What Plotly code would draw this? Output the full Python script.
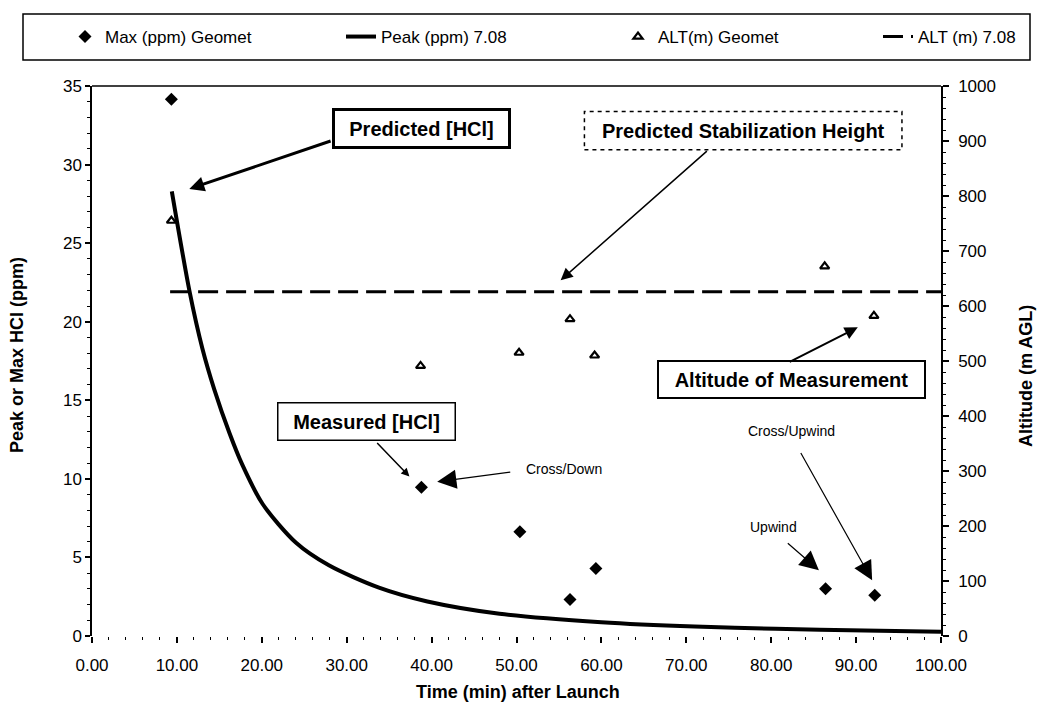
import plotly.graph_objects as go

# ---------------- data ----------------
max_time = [9.35, 38.8, 50.4, 56.3, 59.35, 86.4, 92.2]
max_ppm = [34.15, 9.46, 6.63, 2.33, 4.29, 3.01, 2.59]

alt_time = [9.35, 38.7, 50.3, 56.3, 59.2, 86.3, 92.1]
alt_m = [755, 491, 515, 576, 510, 672, 582]

peak_time = [9.4, 11.5, 13.0, 14.4, 16.2, 17.7, 20.1, 24.0, 27.9, 33.8, 39.5,
             48.0, 60.0, 71.0, 80.5, 91.0, 100.0]
peak_ppm = [28.3, 21.9, 18.3, 15.7, 12.9, 10.9, 8.4, 5.95, 4.5, 3.08, 2.2,
            1.42, 0.88, 0.6, 0.46, 0.35, 0.27]

alt708_time = [9.2, 100.0]
alt708_m = [626, 626]

x_ticks = [0, 10, 20, 30, 40, 50, 60, 70, 80, 90, 100]
y_ticks = [0, 5, 10, 15, 20, 25, 30, 35]
y2_ticks = [0, 100, 200, 300, 400, 500, 600, 700, 800, 900, 1000]

FONT = "Arial, Liberation Sans, Helvetica, sans-serif"

fig = go.Figure()

fig.add_trace(go.Scatter(
    x=max_time, y=max_ppm, mode="markers", name="Max (ppm) Geomet",
    marker=dict(symbol="diamond", size=10, color="black"),
    legend="legend"))
fig.add_trace(go.Scatter(
    x=peak_time, y=peak_ppm, mode="lines", name="Peak (ppm) 7.08",
    line=dict(color="black", width=4, shape="spline", smoothing=0.8),
    legend="legend2"))
fig.add_trace(go.Scatter(
    x=alt_time, y=alt_m, mode="markers", name="ALT(m) Geomet", yaxis="y2",
    marker=dict(symbol="triangle-up-open", size=8, color="black",
                line=dict(width=2.2, color="black")),
    legend="legend3"))
fig.add_trace(go.Scatter(
    x=alt708_time, y=alt708_m, mode="lines", name="ALT (m) 7.08", yaxis="y2",
    line=dict(color="black", width=3, dash="20px,8px"),
    legend="legend4"))

L, R, T, B = 92, 98, 86, 72
W, H = 1039, 708
pw, ph = W - L - R, H - T - B


def px(xp):
    return (xp - L) / pw


def py(yp):
    return (H - B - yp) / ph


legend_common = dict(orientation="h", yanchor="middle", y=py(37), xanchor="left",
                     font=dict(family=FONT, size=17, color="black"),
                     bgcolor="rgba(0,0,0,0)", borderwidth=0, itemwidth=30)

fig.update_layout(
    width=W, height=H,
    margin=dict(l=L, r=R, t=T, b=B),
    paper_bgcolor="white", plot_bgcolor="white",
    font=dict(family=FONT, size=17, color="black"),
    showlegend=True,
    legend=dict(x=px(65), **legend_common),
    legend2=dict(x=px(341), **legend_common),
    legend3=dict(x=px(618), **legend_common),
    legend4=dict(x=px(878), **legend_common),
    xaxis=dict(range=[0, 100], tickvals=x_ticks, tickformat=".2f",
               showgrid=False, zeroline=False, showline=False,
               ticks="outside", ticklen=6, tickwidth=1.5, tickcolor="black",
               minor=dict(dtick=2, ticks="outside", ticklen=3, tickwidth=1.2,
                          tickcolor="black"),
               ticklabelstandoff=8,
               tickfont=dict(family=FONT, size=17, color="black")),
    yaxis=dict(range=[0, 35], tickvals=y_ticks, showgrid=False, zeroline=False,
               showline=True, linecolor="black", linewidth=1.5,
               ticks="outside", ticklen=5, tickwidth=1.5, tickcolor="black",
               minor=dict(dtick=1, ticks="outside", ticklen=3, tickwidth=1,
                          tickcolor="black"),
               tickfont=dict(family=FONT, size=17, color="black")),
    yaxis2=dict(range=[0, 1000], tickvals=y2_ticks, overlaying="y", side="right",
                showgrid=False, zeroline=False, showline=True, linecolor="black",
                linewidth=1.5, ticks="outside", ticklen=6, tickwidth=1.5,
                tickcolor="black",
                minor=dict(dtick=20, ticks="outside", ticklen=3, tickwidth=1,
                           tickcolor="black"),
                ticklabelstandoff=6,
                tickfont=dict(family=FONT, size=17, color="black")),
)

# frame pieces: legend box and top border of plot area
fig.add_shape(type="rect", xref="paper", yref="paper",
              x0=px(23), x1=px(1030), y0=py(60), y1=py(14),
              line=dict(color="black", width=1.5), fillcolor="rgba(0,0,0,0)")
fig.add_shape(type="line", xref="paper", yref="paper", x0=0, x1=1, y0=1, y1=1,
              line=dict(color="black", width=1.5))

# dashed box of the stabilization label
fig.add_shape(type="rect", xref="x", yref="y", x0=58.0, x1=95.4, y0=30.94, y1=33.37,
              line=dict(color="black", width=1.5, dash="4px,4px"), fillcolor="white")

ann = []
# axis titles
ann.append(dict(text="<b>Peak or Max HCl (ppm)</b>", xref="paper", yref="paper",
                x=px(17), y=py(355), textangle=-90, showarrow=False,
                xanchor="center", yanchor="middle", font=dict(size=18)))
ann.append(dict(text="<b>Altitude (m AGL)</b>", xref="paper", yref="paper",
                x=px(1026), y=py(376), textangle=-90, showarrow=False,
                xanchor="center", yanchor="middle", font=dict(size=18)))
ann.append(dict(text="<b>Time (min) after Launch</b>", xref="paper", yref="paper",
                x=px(518), y=py(692), showarrow=False,
                xanchor="center", yanchor="middle", font=dict(size=18)))

# boxed labels
def box(text, x, y, w, h, bw):
    return dict(text="<b>%s</b>" % text, x=x, y=y, xref="x", yref="y",
                showarrow=False, xanchor="center", yanchor="middle",
                width=w, height=h, borderwidth=bw, bordercolor="black",
                bgcolor="white", borderpad=1, font=dict(size=20))

ann.append(box("Predicted [HCl]", 38.8, 32.27, 171, 33, 3))
ann.append(box("Measured [HCl]", 32.33, 13.63, 174, 34, 1.5))
ann.append(box("Altitude of Measurement", 82.4, 16.32, 263, 33, 2))
ann.append(dict(text="<b>Predicted Stabilization Height</b>", x=76.7, y=32.15,
                xref="x", yref="y", showarrow=False, xanchor="center",
                yanchor="middle", font=dict(size=20)))

# plain labels
for text, x, y in [("Cross/Down", 55.56, 10.63), ("Upwind", 80.25, 6.93),
                   ("Cross/Upwind", 82.36, 13.06)]:
    ann.append(dict(text=text, x=x, y=y, xref="x", yref="y", showarrow=False,
                    xanchor="center", yanchor="middle", font=dict(size=14)))


def arrow(x, y, ax, ay, width, size):
    return dict(text="", x=x, y=y, ax=ax, ay=ay, xref="x", yref="y",
                axref="x", ayref="y", showarrow=True, arrowhead=2,
                arrowwidth=width, arrowsize=size, arrowcolor="black", standoff=0)

ann.append(arrow(11.46, 28.45, 28.28, 31.53, 3, 1.0))       # Predicted [HCl]
ann.append(arrow(55.2, 22.64, 72.6, 30.94, 1.5, 1.6))       # Stabilization
ann.append(arrow(90.2, 19.64, 82.0, 17.4, 2, 1.3))          # Altitude
ann.append(arrow(37.39, 10.15, 33.42, 12.38, 1.5, 1.1))     # Measured
ann.append(arrow(40.66, 9.82, 49.44, 10.44, 1.2, 3.2))      # Cross/Down
ann.append(arrow(85.62, 4.18, 81.78, 5.99, 1.2, 3.2))       # Upwind
ann.append(arrow(91.89, 3.54, 83.39, 11.74, 1.2, 3.2))      # Cross/Upwind

fig.update_layout(annotations=ann)

fig.write_html("out.html")
